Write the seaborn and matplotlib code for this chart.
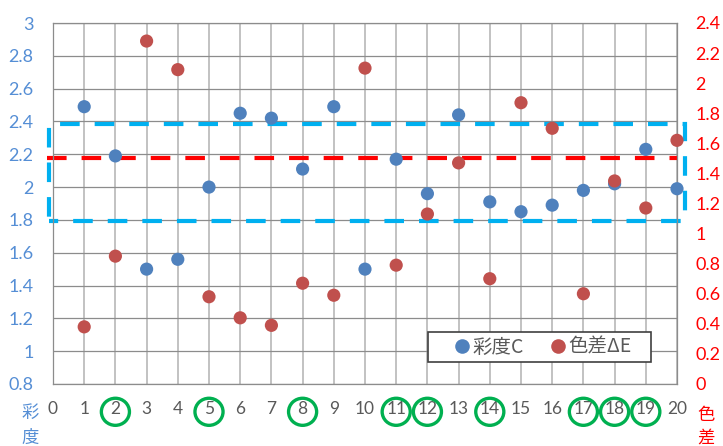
import matplotlib
matplotlib.use("Agg")
import matplotlib.pyplot as plt
import seaborn as sns
import pandas as pd
from matplotlib.patches import Rectangle, Ellipse
from matplotlib.lines import Line2D
from matplotlib.ticker import FuncFormatter

# ---- data -------------------------------------------------------------
sample_no = list(range(1, 21))
chroma_c = [2.49, 2.19, 1.50, 1.56, 2.00, 2.45, 2.42, 2.11, 2.49, 1.50,
            2.17, 1.96, 2.44, 1.91, 1.85, 1.89, 1.98, 2.02, 2.23, 1.99]
delta_e = [0.38, 0.85, 2.28, 2.09, 0.58, 0.44, 0.39, 0.67, 0.59, 2.10,
           0.79, 1.13, 1.47, 0.70, 1.87, 1.70, 0.60, 1.35, 1.17, 1.62]
x_ticks = list(range(0, 21))
left_ticks = [0.8, 1.0, 1.2, 1.4, 1.6, 1.8, 2.0, 2.2, 2.4, 2.6, 2.8, 3.0]
right_ticks = [0.0, 0.2, 0.4, 0.6, 0.8, 1.0, 1.2, 1.4, 1.6, 1.8, 2.0, 2.2, 2.4]
circled_samples = [2, 5, 8, 11, 12, 14, 17, 18, 19]
legend_labels = ["彩度C", "色差ΔE"]

# chroma reference band (left axis units)
chroma_center = 2.18
chroma_low = 1.795
chroma_high = 2.385

df = pd.DataFrame({"sample": sample_no, "C": chroma_c, "dE": delta_e})

# ---- style ------------------------------------------------------------
sns.set_theme(style="white")
plt.rcParams["font.family"] = ["Lato", "Noto Sans CJK JP", "DejaVu Sans"]
CJK = ["Noto Sans CJK JP", "DejaVu Sans"]

BLUE = "#4F81BD"
RED = "#C0504D"
LEFT_TXT = "#558ED5"
RIGHT_TXT = "#FF0000"
GRAY_TXT = "#595959"

W, H = 723, 446
fig = plt.figure(figsize=(W / 100, H / 100), dpi=100)
L, R, T, B = 53, 677, 23, 384
ax = fig.add_axes([L / W, 1 - B / H, (R - L) / W, (B - T) / H])
ax2 = ax.twinx()

# ---- grid and axes ----------------------------------------------------
ax.set_xlim(0, 20)
ax.set_ylim(0.8, 3.0)
ax2.set_ylim(0.0, 2.4)
ax.set_xticks(x_ticks)
ax.set_yticks(left_ticks)
ax2.set_yticks(right_ticks)
fmt = FuncFormatter(lambda v, p: f"{v:g}")
ax.yaxis.set_major_formatter(fmt)
ax2.yaxis.set_major_formatter(fmt)

ax.grid(axis="y", color="#8C8C8C", linewidth=0.9)
ax.grid(axis="x", color="#BDBDBD", linewidth=1.3)
ax.set_axisbelow(True)
for s in ax.spines.values():
    s.set_color("#8C8C8C")
    s.set_linewidth(0.9)
for s in ax2.spines.values():
    s.set_visible(False)

ax.tick_params(axis="x", length=0, pad=12, labelsize=12.5, labelcolor=GRAY_TXT)
ax.tick_params(axis="y", length=0, pad=14, labelsize=13, labelcolor=LEFT_TXT)
ax2.tick_params(axis="y", length=0, pad=13, labelsize=13, labelcolor=RIGHT_TXT)

# ---- reference band ---------------------------------------------------
band = Rectangle((-0.13, chroma_low), 20.38, chroma_high - chroma_low,
                 fill=False, edgecolor="#00B0F0", linewidth=3,
                 linestyle=(2.5, (4.7, 3.6)), clip_on=False, zorder=2)
ax.add_patch(band)
ax.plot([-0.2, 20.0], [chroma_center, chroma_center], color="#FF0000",
        linewidth=3, linestyle=(0, (4.7, 3.6)), clip_on=False, zorder=2)

# ---- points -----------------------------------------------------------
sns.scatterplot(data=df, x="sample", y="C", ax=ax, color=BLUE, s=90,
                edgecolor="none", legend=False, zorder=3, clip_on=False)
sns.scatterplot(data=df, x="sample", y="dE", ax=ax2, color=RED, s=90,
                edgecolor="none", legend=False, zorder=3, clip_on=False)
ax.set_xlabel("")
ax.set_ylabel("")
ax2.set_ylabel("")

# ---- circled sample numbers ------------------------------------------
for n in circled_samples:
    ax.add_patch(Ellipse((n, -0.077), width=0.9, height=0.075,
                         transform=ax.get_xaxis_transform(), fill=False,
                         edgecolor="#00B050", linewidth=2.4, clip_on=False))

# ---- axis titles (stacked characters) ---------------------------------
fig.text(30 / W, 1 - 413 / H, "彩", ha="center", va="center",
         fontsize=12.5, color=LEFT_TXT, family=CJK)
fig.text(30 / W, 1 - 438 / H, "度", ha="center", va="center",
         fontsize=12.5, color=LEFT_TXT, family=CJK)
fig.text(706 / W, 1 - 415 / H, "色", ha="center", va="center",
         fontsize=12.5, color=RIGHT_TXT, family=CJK)
fig.text(706 / W, 1 - 438 / H, "差", ha="center", va="center",
         fontsize=12.5, color=RIGHT_TXT, family=CJK)

# ---- legend -----------------------------------------------------------
ax2.add_patch(Rectangle((428 / W, 1 - 361.5 / H), 223 / W, 29.5 / H,
                        transform=fig.transFigure, facecolor="white",
                        edgecolor="#404040", linewidth=1.2, zorder=5,
                        clip_on=False))
handles = [Line2D([], [], marker="o", linestyle="", markersize=10.5,
                  markerfacecolor=c, markeredgecolor="none")
           for c in (BLUE, RED)]
leg = ax2.legend(handles, legend_labels, ncol=2, frameon=False,
                 loc="center left", bbox_to_anchor=(452.3 / W, 1 - 347 / H),
                 bbox_transform=fig.transFigure, borderpad=0, borderaxespad=0,
                 handlelength=1.0, handletextpad=0.05, columnspacing=1.23,
                 prop={"family": CJK, "size": 14})
for t in leg.get_texts():
    t.set_color(GRAY_TXT)
leg.set_zorder(6)

fig.savefig("out.png", dpi=100)
